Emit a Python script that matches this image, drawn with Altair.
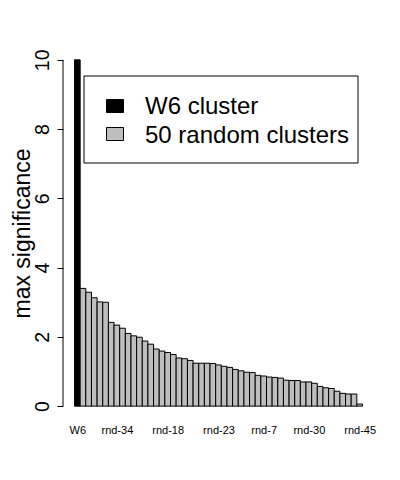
import altair as alt
import pandas as pd

# ---- data ----
w6_label = ["W6"]
w6_value = [10.0]
random_values = [3.40, 3.29, 3.13, 3.01, 3.00, 2.42, 2.34, 2.25, 2.10, 2.03,
                 1.99, 1.88, 1.79, 1.65, 1.59, 1.55, 1.49, 1.39, 1.37, 1.32,
                 1.24, 1.24, 1.24, 1.23, 1.19, 1.15, 1.12, 1.06, 1.02, 0.98,
                 0.97, 0.89, 0.87, 0.84, 0.83, 0.81, 0.75, 0.74, 0.74, 0.70,
                 0.70, 0.66, 0.57, 0.53, 0.51, 0.43, 0.37, 0.35, 0.35, 0.06]
shown_labels = ["W6", "rnd-34", "rnd-18", "rnd-23", "rnd-7", "rnd-30", "rnd-45"]
shown_index = [0, 7, 16, 25, 33, 41, 50]
legend_labels = ["W6 cluster", "50 random clusters"]
y_ticks = [0, 2, 4, 6, 8, 10]

values = w6_value + random_values
n = len(values)
df = pd.DataFrame({
    "idx": list(range(n)),
    "idx_end": [i + 1 for i in range(n)],
    "value": values,
    "group": [legend_labels[0]] + [legend_labels[1]] * len(random_values),
})

FONT = "Liberation Sans"
ext_x = 0.04 * n
x_scale = alt.Scale(domain=[-ext_x, n + ext_x], nice=False, zero=False)
y_scale = alt.Scale(domain=[-0.4, 10.4], nice=False, zero=False)

label_expr = ""
for lab, i in zip(shown_labels, shown_index):
    label_expr += f"datum.value == {i + 0.5} ? '{lab}' : "
label_expr += "''"

bars = alt.Chart(df).mark_bar(stroke="black", strokeWidth=1).encode(
    x=alt.X("idx:Q", scale=x_scale,
            axis=alt.Axis(values=[i + 0.5 for i in shown_index], labelExpr=label_expr,
                          ticks=False, tickSize=0, domain=False, grid=False, title=None,
                          labelFont=FONT, labelFontSize=11, labelColor="black",
                          labelBaseline="alphabetic", labelPadding=13, labelFlush=False,
                          labelOverlap=False)),
    x2="idx_end:Q",
    y=alt.Y("value:Q", scale=y_scale,
            axis=alt.Axis(values=y_ticks, format="d", grid=False, domain=False,
                          tickSize=6, tickColor="black", tickWidth=1,
                          labelAngle=-90, labelAlign="center", labelBaseline="alphabetic",
                          labelPadding=9, labelFont=FONT, labelFontSize=19.5,
                          labelColor="black", labelFlush=False,
                          title="max significance", titleFont=FONT, titleFontSize=23,
                          titleFontWeight="normal", titleColor="black", titleAngle=-90,
                          titleAlign="center", titleBaseline="alphabetic",
                          titleX=-34, titleY=187)),
    y2=alt.datum(0),
    color=alt.Color("group:N",
                    scale=alt.Scale(domain=legend_labels, range=["black", "#bebebe"]),
                    legend=None),
)

one = pd.DataFrame({"k": [0]})
axis_line = alt.Chart(one).mark_rule(color="black", strokeWidth=1).encode(
    x=alt.value(0), y=alt.datum(0), y2=alt.datum(10))

legend_box = alt.Chart(one).mark_rect(fill="white", stroke="black", strokeWidth=1).encode(
    x=alt.value(21), x2=alt.value(295), y=alt.value(30), y2=alt.value(117))

sq1 = alt.Chart(one).mark_rect(fill="black", stroke="black", strokeWidth=1).encode(
    x=alt.value(43.5), x2=alt.value(60.5), y=alt.value(53.5), y2=alt.value(66.5))
sq2 = alt.Chart(one).mark_rect(fill="#bebebe", stroke="black", strokeWidth=1).encode(
    x=alt.value(43.5), x2=alt.value(60.5), y=alt.value(81.5), y2=alt.value(94.5))

txt1 = alt.Chart(pd.DataFrame({"t": [legend_labels[0]]})).mark_text(
    align="left", baseline="alphabetic", font=FONT, fontSize=24, color="black").encode(
    text="t:N", x=alt.value(82), y=alt.value(68.3))
txt2 = alt.Chart(pd.DataFrame({"t": [legend_labels[1]]})).mark_text(
    align="left", baseline="alphabetic", font=FONT, fontSize=24, color="black").encode(
    text="t:N", x=alt.value(82), y=alt.value(96.7))

chart = alt.layer(bars, axis_line, legend_box, sq1, sq2, txt1, txt2).properties(
    width=311, height=374,
    autosize=alt.AutoSizeParams(type="none"),
    padding={"left": 55, "top": 38, "right": 18, "bottom": 52},
    background="white",
).configure_view(stroke=None)

chart.save("out.html", embed_options={"renderer": "svg", "actions": False})
